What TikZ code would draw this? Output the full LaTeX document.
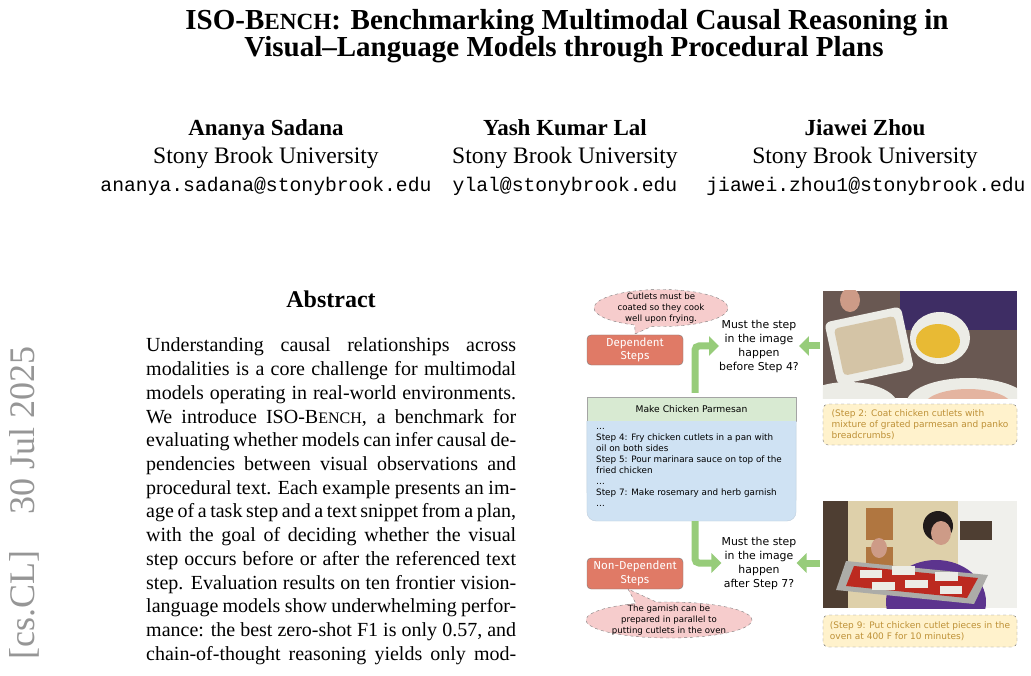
\documentclass[tikz,border=0pt]{standalone}
\usepackage{fontspec}
\setmainfont{Liberation Serif}
\setmonofont{Liberation Mono}
\newfontfamily\figfont{DejaVu Sans}
\newfontfamily\labelfont{Fira Sans}
\usetikzlibrary{shapes.callouts,arrows.meta}

\definecolor{stampgray}{RGB}{150,150,150}
\definecolor{arrowgreen}{RGB}{151,204,122}
\definecolor{salmon}{RGB}{224,122,102}
\definecolor{bubblepink}{RGB}{246,204,204}
\definecolor{titlegreen}{RGB}{216,234,210}
\definecolor{planblue}{RGB}{207,226,243}
\definecolor{noteyellow}{RGB}{255,242,204}
\definecolor{notetext}{RGB}{190,145,55}
\definecolor{edgegray}{RGB}{125,125,125}
\definecolor{photodark}{RGB}{105,88,82}
\definecolor{photopurple}{RGB}{62,45,100}
\definecolor{skin}{RGB}{205,155,135}
\definecolor{platewhite}{RGB}{236,236,230}
\definecolor{crumbs}{RGB}{212,196,166}
\definecolor{yolk}{RGB}{232,186,52}
\definecolor{chicken}{RGB}{228,180,160}
\definecolor{wall}{RGB}{222,208,170}
\definecolor{door}{RGB}{78,62,50}
\definecolor{frame}{RGB}{176,118,64}
\definecolor{fridge}{RGB}{240,240,236}
\definecolor{shirt}{RGB}{92,52,142}
\definecolor{hair}{RGB}{32,26,26}
\definecolor{traygray}{RGB}{172,172,168}
\definecolor{sauce}{RGB}{188,42,32}

\newcommand{\fakesc}[1]{\scalebox{0.8}{#1}}
\newcommand{\justline}[1]{\makebox[370pt][s]{#1}}

\tikzset{
  titletext/.style={anchor=base, inner sep=0, font=\fontsize{29}{32}\bfseries},
  authname/.style={anchor=base, inner sep=0, font=\fontsize{23}{25}\bfseries},
  authplace/.style={anchor=base, inner sep=0, font=\fontsize{23.6}{25}\selectfont},
  authmail/.style={anchor=base, inner sep=0, font=\ttfamily\fontsize{19.7}{24}\selectfont},
  absline/.style={anchor=base west, inner sep=0, font=\fontsize{20}{24}\selectfont},
  stamp/.style={rotate=90, inner sep=0, text=stampgray, font=\fontsize{36}{40}\selectfont},
  thought/.style={ellipse callout, draw=edgegray, dashed, fill=bubblepink, inner sep=0},
  bubbletext/.style={align=center, inner sep=0, font=\figfont\fontsize{8.6}{11}\selectfont},
  steplabel/.style={rectangle, rounded corners=4pt, draw=edgegray, fill=salmon, text=white,
    align=center, minimum width=96pt, minimum height=30pt, inner sep=0,
    font=\labelfont\fontsize{11.5}{13.5}\selectfont},
  question/.style={align=center, inner sep=0, font=\figfont\fontsize{10.9}{14}\selectfont},
  bigarrow/.style={draw=arrowgreen, line width=7pt, rounded corners=4pt,
    -{Triangle[length=10pt,width=19pt]}},
  plantitle/.style={rectangle, draw=edgegray!70, fill=titlegreen, minimum width=209pt,
    minimum height=24pt, inner sep=0, font=\figfont\fontsize{9.2}{12}\selectfont},
  planbody/.style={draw=planblue!80!gray, fill=planblue, rounded corners=9pt},
  plantext/.style={anchor=north west, align=left, inner sep=0,
    font=\figfont\fontsize{8.8}{11.1}\selectfont},
  photo/.style={rectangle, minimum width=194pt, minimum height=107pt, inner sep=0},
  caption/.style={rectangle, rounded corners=5pt, draw=edgegray, dashed, fill=noteyellow,
    text=notetext, align=left, minimum width=194pt, inner xsep=0, inner ysep=0,
    font=\figfont\fontsize{9}{10.8}\selectfont}
}

\begin{document}
\begin{tikzpicture}[x=1pt,y=-1pt]
	\useasboundingbox (0,0) rectangle (1031,676);
	\fill[white] (0,0) rectangle (1031,676);
	
	% title and authors
	\node[titletext] (title1) at (567,30) {ISO-B\fakesc{ENCH}: Benchmarking Multimodal Causal Reasoning in};
	\node[titletext] (title2) at (564,57) {Visual--Language Models through Procedural Plans};
	
	\node[authname] (name1) at (266,136) {Ananya Sadana};
	\node[authname] (name2) at (565,136) {Yash Kumar Lal};
	\node[authname] (name3) at (865,136) {Jiawei Zhou};
	\node[authplace] (place1) at (266,164) {Stony Brook University};
	\node[authplace] (place2) at (565,164) {Stony Brook University};
	\node[authplace] (place3) at (865,164) {Stony Brook University};
	\node[authmail] (mail1) at (266,192) {ananya.sadana@stonybrook.edu};
	\node[authmail] (mail2) at (565,192) {ylal@stonybrook.edu};
	\node[authmail] (mail3) at (866,192) {jiawei.zhou1@stonybrook.edu};
	
	\node[stamp] (arxiv) at (24,503) {[cs.CL]\quad 30 Jul 2025};
	
	% abstract
	\node[anchor=base, inner sep=0, font=\fontsize{24}{26}\bfseries] (abshead) at (331,308) {Abstract};
	\node[absline] (abs1) at (146,352) {\justline{Understanding causal relationships across}};
	\node[absline] (abs2) at (146,375.7) {\justline{modalities is a core challenge for multimodal}};
	\node[absline] (abs3) at (146,399.4) {\justline{models operating in real-world environments.}};
	\node[absline] (abs4) at (146,423.1) {\justline{We introduce ISO-B\fakesc{ENCH}, a benchmark for}};
	\node[absline] (abs5) at (146,446.8) {\justline{evaluating whether models can infer causal de-}};
	\node[absline] (abs6) at (146,470.5) {\justline{pendencies between visual observations and}};
	\node[absline] (abs7) at (146,494.2) {\justline{procedural text. Each example presents an im-}};
	\node[absline] (abs8) at (146,517.9) {\justline{age of a task step and a text snippet from a plan,}};
	\node[absline] (abs9) at (146,541.6) {\justline{with the goal of deciding whether the visual}};
	\node[absline] (abs10) at (146,565.3) {\justline{step occurs before or after the referenced text}};
	\node[absline] (abs11) at (146,589) {\justline{step. Evaluation results on ten frontier vision-}};
	\node[absline] (abs12) at (146,612.7) {\justline{language models show underwhelming perfor-}};
	\node[absline] (abs13) at (146,636.4) {\justline{mance: the best zero-shot F1 is only 0.57, and}};
	\node[absline] (abs14) at (146,660.1) {\justline{chain-of-thought reasoning yields only mod-}};
	
	% figure: plan in the middle
	\node[plantitle] (plantitle) at (691.5,409) {Make Chicken Parmesan};
	\path[planbody] (plantitle.south west) -- (587,521) -- (796,521) -- (plantitle.south east);
	\node[plantext] (steps) at (596,428) {\dots\\Step 4: Fry chicken cutlets in a pan with\\oil on both sides\\Step 5: Pour marinara sauce on top of the\\fried chicken\\\dots\\Step 7: Make rosemary and herb garnish\\\dots};
	\coordinate (planfoot) at (695,521);
	
	% upper question
	\node[thought, minimum width=134pt, minimum height=37pt, callout absolute pointer={(635,334)}] (cloud1) at (661,308) {};
	\node[bubbletext] (cloudtext1) at (cloud1.center) {Cutlets must be\\coated so they cook\\well upon frying.};
	\node[steplabel] (dep) at (635,350) {Dependent\\Steps};
	\node[question] (q1) at (759,346) {Must the step\\in the image\\happen\\before Step 4?};
	
	% lower question
	\node[steplabel, minimum height=31pt] (nondep) at (635,573.5) {Non-Dependent\\Steps};
	\node[thought, minimum width=166pt, minimum height=36pt, callout absolute pointer={(628,589)}] (cloud2) at (669,620) {};
	\node[bubbletext] (cloudtext2) at (cloud2.center) {The garnish can be\\prepared in parallel to\\putting cutlets in the oven};
	\node[question] (q2) at (759,563) {Must the step\\in the image\\happen\\after Step 7?};
	
	% photos with captions
	\node[photo] (photo1) at (920,344.5) {};
	\begin{scope}
		\clip (photo1.south west) rectangle (photo1.north east);
		\fill[photodark] (823,291) rectangle (1017,398);
		\fill[photopurple] (900,291) rectangle (1017,330);
		\fill[skin] (850,300) ellipse (10 and 12);
		\fill[platewhite, rounded corners=6pt, rotate around={12:(868,345)}] (830,314) rectangle (908,378);
		\fill[crumbs, rounded corners=4pt, rotate around={12:(868,345)}] (838,322) rectangle (900,370);
		\fill[platewhite] (940,338) ellipse (30 and 26);
		\fill[yolk] (938,341) ellipse (22 and 17);
		\fill[platewhite] (848,406) ellipse (50 and 24);
		\fill[platewhite] (968,404) ellipse (62 and 26);
		\fill[chicken] (968,406) ellipse (44 and 17);
	\end{scope}
	\node[caption, minimum height=41pt] (cap1) at (920,424.5) {(Step 2: Coat chicken cutlets with\\mixture of grated parmesan and panko\\breadcrumbs)};
	
	\node[photo] (photo2) at (920,554.5) {};
	\begin{scope}
		\clip (photo2.south west) rectangle (photo2.north east);
		\fill[wall] (823,501) rectangle (1017,608);
		\fill[door] (823,501) rectangle (848,608);
		\fill[frame] (866,508) rectangle (893,540);
		\fill[frame] (866,547) rectangle (893,575);
		\fill[fridge] (958,501) rectangle (1017,608);
		\fill[door] (960,521) rectangle (992,540);
		\fill[shirt] (936,602) ellipse (50 and 42);
		\fill[hair] (938,526) circle (15);
		\fill[skin] (941,533) ellipse (10 and 12);
		\fill[skin] (879,548) ellipse (8 and 10);
		\fill[traygray] (846,561) -- (988,575) -- (974,604) -- (836,590) -- cycle;
		\fill[sauce] (854,566) -- (978,578) -- (967,598) -- (846,586) -- cycle;
		\fill[platewhite] (860,570) rectangle (882,578);
		\fill[platewhite] (892,566) rectangle (915,575);
		\fill[platewhite] (905,580) rectangle (928,588);
		\fill[platewhite] (935,572) rectangle (958,581);
		\fill[platewhite] (940,586) rectangle (962,594);
		\fill[platewhite] (872,582) rectangle (895,590);
	\end{scope}
	\node[caption, minimum height=32pt] (cap2) at (920,631) {(Step 9: Put chicken cutlet pieces in the\\oven at 400 F for 10 minutes)};
	
	% arrows
	\draw[bigarrow, shorten <=4pt] ([xshift=3.5pt]plantitle.north) |- (q1.west);
	\draw[bigarrow] (planfoot) |- (q2.west);
	\draw[bigarrow, shorten <=3pt] (photo1.west |- q1.east) -- (q1.east);
	\draw[bigarrow, shorten <=3pt] (photo2.west |- q2.east) -- (q2.east);
\end{tikzpicture}
\end{document}
